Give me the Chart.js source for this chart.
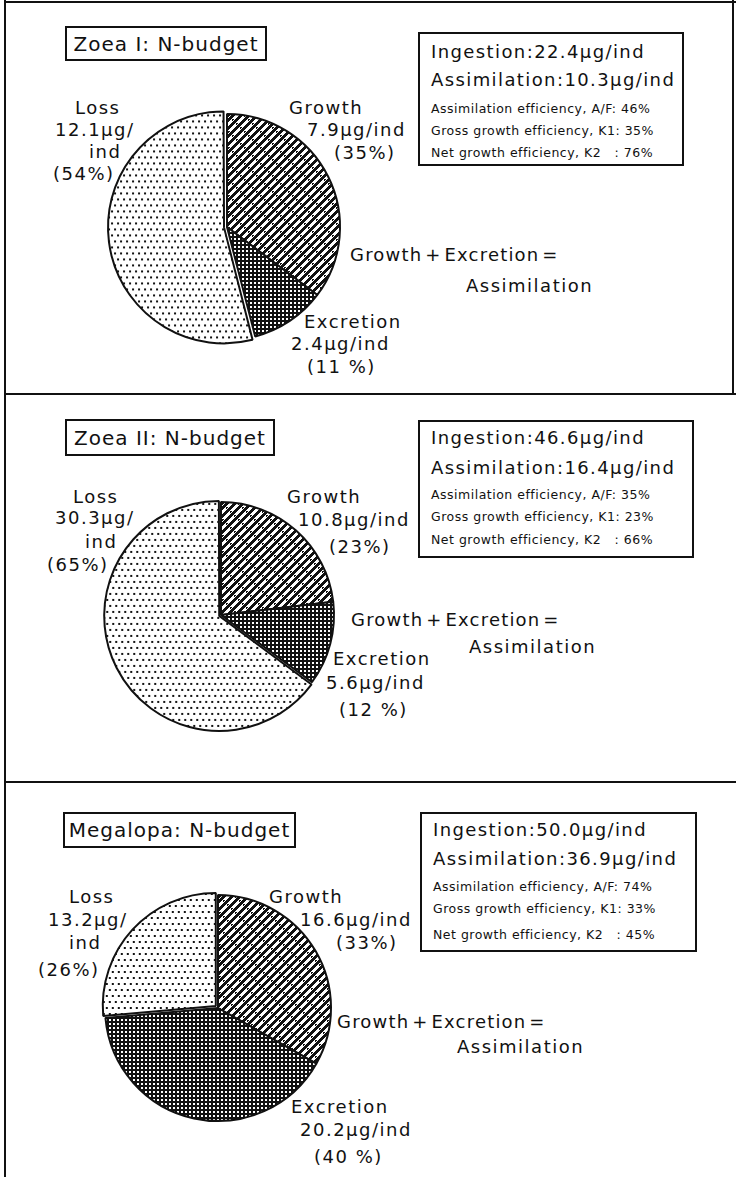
<!DOCTYPE html>
<html>
<head>
<meta charset="utf-8">
<script src="https://cdn.jsdelivr.net/npm/chart.js@4.4.0/dist/chart.umd.min.js"></script>
<style>
  body { margin: 0; background: #fff; }
  #page { position: relative; width: 736px; height: 1177px; overflow: hidden;
          font-family: "DejaVu Sans", sans-serif; color: #111; }
  .t { position: absolute; white-space: pre; line-height: 1; transform: translateY(-50%); }
  .big { font-size: 18px; letter-spacing: 1.5px; }
  .info { font-size: 18px; letter-spacing: 1.4px; }
  .small { font-size: 12.5px; letter-spacing: 0.5px; }
  .sum { word-spacing: -4px; letter-spacing: 1.2px; }
  .box { position: absolute; border: 2px solid #111; box-sizing: border-box; }
  .rule { position: absolute; background: #111; }
  .pie { position: absolute; width: 300px; height: 300px; }
</style>
</head>
<body>
<div id="page"></div>
<script>
// data
const parts = ["Growth", "Excretion", "Loss"];
const stages = ["Zoea I", "Zoea II", "Megalopa"];
const zoea1Values = [7.9, 2.4, 12.1];
const zoea1Pct = [35, 11, 54];
const zoea2Values = [10.8, 5.6, 30.3];
const zoea2Pct = [23, 12, 65];
const megaValues = [16.6, 20.2, 13.2];
const megaPct = [33, 40, 26];
const ingestion = ["22.4", "46.6", "50.0"];
const assimilation = ["10.3", "16.4", "36.9"];
const effAF = [46, 35, 74];
const effK1 = [35, 23, 33];
const effK2 = [76, 66, 45];

// layout of each panel (pixels)
const panels = [
  { values: zoea1Values, pct: zoea1Pct, cx: 227, cy: 227, off: 12,
    title: [65, 26, 202, 35], info: [418, 32, 266, 134], infoY: [52, 80, 109, 131, 153],
    loss: [[75, 108], [55, 130], [89, 152], [53, 174]],
    growth: [[289, 108], [307, 130], [334, 153]],
    sum: [[350, 255], [466, 286]],
    excr: [[304, 322], [291, 344], [307, 367]] },
  { values: zoea2Values, pct: zoea2Pct, cx: 221, cy: 615, off: 8,
    title: [65, 419, 210, 37], info: [418, 420, 276, 138], infoY: [438, 468, 495, 517, 540],
    loss: [[73, 497], [55, 518], [85, 542], [47, 565]],
    growth: [[287, 497], [298, 520], [329, 547]],
    sum: [[351, 620], [469, 647]],
    excr: [[333, 659], [326, 683], [339, 710]] },
  { values: megaValues, pct: megaPct, cx: 218, cy: 1008, off: 12,
    title: [63, 812, 233, 36], info: [420, 812, 277, 140], infoY: [830, 859, 887, 909, 935],
    loss: [[69, 897], [48, 920], [69, 943], [38, 970]],
    growth: [[269, 897], [300, 920], [336, 943]],
    sum: [[337, 1022], [457, 1047]],
    excr: [[291, 1107], [300, 1130], [314, 1157]] }
];

const page = document.getElementById("page");

function add(cls, css, text) {
  const d = document.createElement("div");
  d.className = cls;
  Object.assign(d.style, css);
  if (text !== undefined) d.textContent = text;
  page.appendChild(d);
  return d;
}
function txt(cls, xy, text) {
  return add("t " + cls, { left: xy[0] + "px", top: xy[1] + "px" }, text);
}

// frame lines
add("rule", { left: "4px", top: "0px", width: "2px", height: "1177px" });
add("rule", { left: "4px", top: "1px", width: "732px", height: "2px" });
add("rule", { left: "732px", top: "0px", width: "2px", height: "395px" });
add("rule", { left: "4px", top: "393px", width: "732px", height: "2px" });
add("rule", { left: "4px", top: "781px", width: "732px", height: "2px" });

// fill patterns (pixel tiles)
const probe = document.createElement("canvas").getContext("2d");
function makePattern(w, h, isBlack) {
  const c = document.createElement("canvas");
  c.width = w; c.height = h;
  const g = c.getContext("2d");
  g.fillStyle = "#fff";
  g.fillRect(0, 0, w, h);
  g.fillStyle = "#111";
  for (let y = 0; y < h; y++)
    for (let x = 0; x < w; x++)
      if (isBlack(x, y)) g.fillRect(x, y, 1, 1);
  return probe.createPattern(c, "repeat");
}
const growthFill = makePattern(16, 16, (x, y) => {
  const d = (x + y) % 8, a = (x - y + 32) % 16;
  return d < 4 || (d >= 5 && d <= 6 && a < 3);
});
const excrFill = makePattern(4, 4, (x, y) => !((x === 1 || x === 2) && (y === 1 || y === 2)));
const lossFill = makePattern(6, 12, (x, y) =>
  ((x === 1 || x === 2) && (y === 1 || y === 2)) || ((x === 4 || x === 5) && (y === 7 || y === 8)));

panels.forEach((p, i) => {
  // title box
  add("box", { left: p.title[0] + "px", top: p.title[1] + "px",
    width: p.title[2] + "px", height: p.title[3] + "px",
    display: "flex", alignItems: "center", justifyContent: "center",
    fontSize: "20px", letterSpacing: "1px" },
    stages[i] + ": N-budget");

  // info box
  add("box", { left: p.info[0] + "px", top: p.info[1] + "px", width: p.info[2] + "px", height: p.info[3] + "px" });
  const ix = p.info[0] + 13;
  txt("info", [ix, p.infoY[0]], "Ingestion:" + ingestion[i] + "µg/ind");
  txt("info", [ix, p.infoY[1]], "Assimilation:" + assimilation[i] + "µg/ind");
  txt("small", [ix, p.infoY[2]], "Assimilation efficiency, A/F: " + effAF[i] + "%");
  txt("small", [ix, p.infoY[3]], "Gross growth efficiency, K1: " + effK1[i] + "%");
  txt("small", [ix, p.infoY[4]], "Net growth efficiency, K2   : " + effK2[i] + "%");

  // slice labels
  const [g, e, l] = p.values;
  const [gp, ep, lp] = p.pct;
  txt("big", p.loss[0], "Loss");
  txt("big", p.loss[1], l.toFixed(1) + "µg/");
  txt("big", p.loss[2], "ind");
  txt("big", p.loss[3], "(" + lp + "%)");
  txt("big", p.growth[0], "Growth");
  txt("big", p.growth[1], g.toFixed(1) + "µg/ind");
  txt("big", p.growth[2], "(" + gp + "%)");
  txt("big sum", p.sum[0], "Growth + Excretion =");
  txt("big", p.sum[1], "Assimilation");
  txt("big", p.excr[0], "Excretion");
  txt("big", p.excr[1], e.toFixed(1) + "µg/ind");
  txt("big", p.excr[2], "(" + ep + " %)");

  // pie
  const wrap = add("pie", { left: (p.cx - 150) + "px", top: (p.cy - 150) + "px" });
  const cv = document.createElement("canvas");
  cv.width = 300; cv.height = 300;
  wrap.appendChild(cv);
  new Chart(cv, {
    type: "pie",
    data: {
      labels: parts,
      datasets: [{
        data: p.values,
        backgroundColor: [growthFill, excrFill, lossFill],
        borderColor: "#111",
        borderWidth: 2,
        offset: [0, 0, p.off],
        radius: 113
      }]
    },
    options: {
      responsive: false,
      animation: false,
      devicePixelRatio: 1,
      layout: { padding: 0 },
      plugins: { legend: { display: false }, tooltip: { enabled: false } }
    }
  });
});
</script>
</body>
</html>
